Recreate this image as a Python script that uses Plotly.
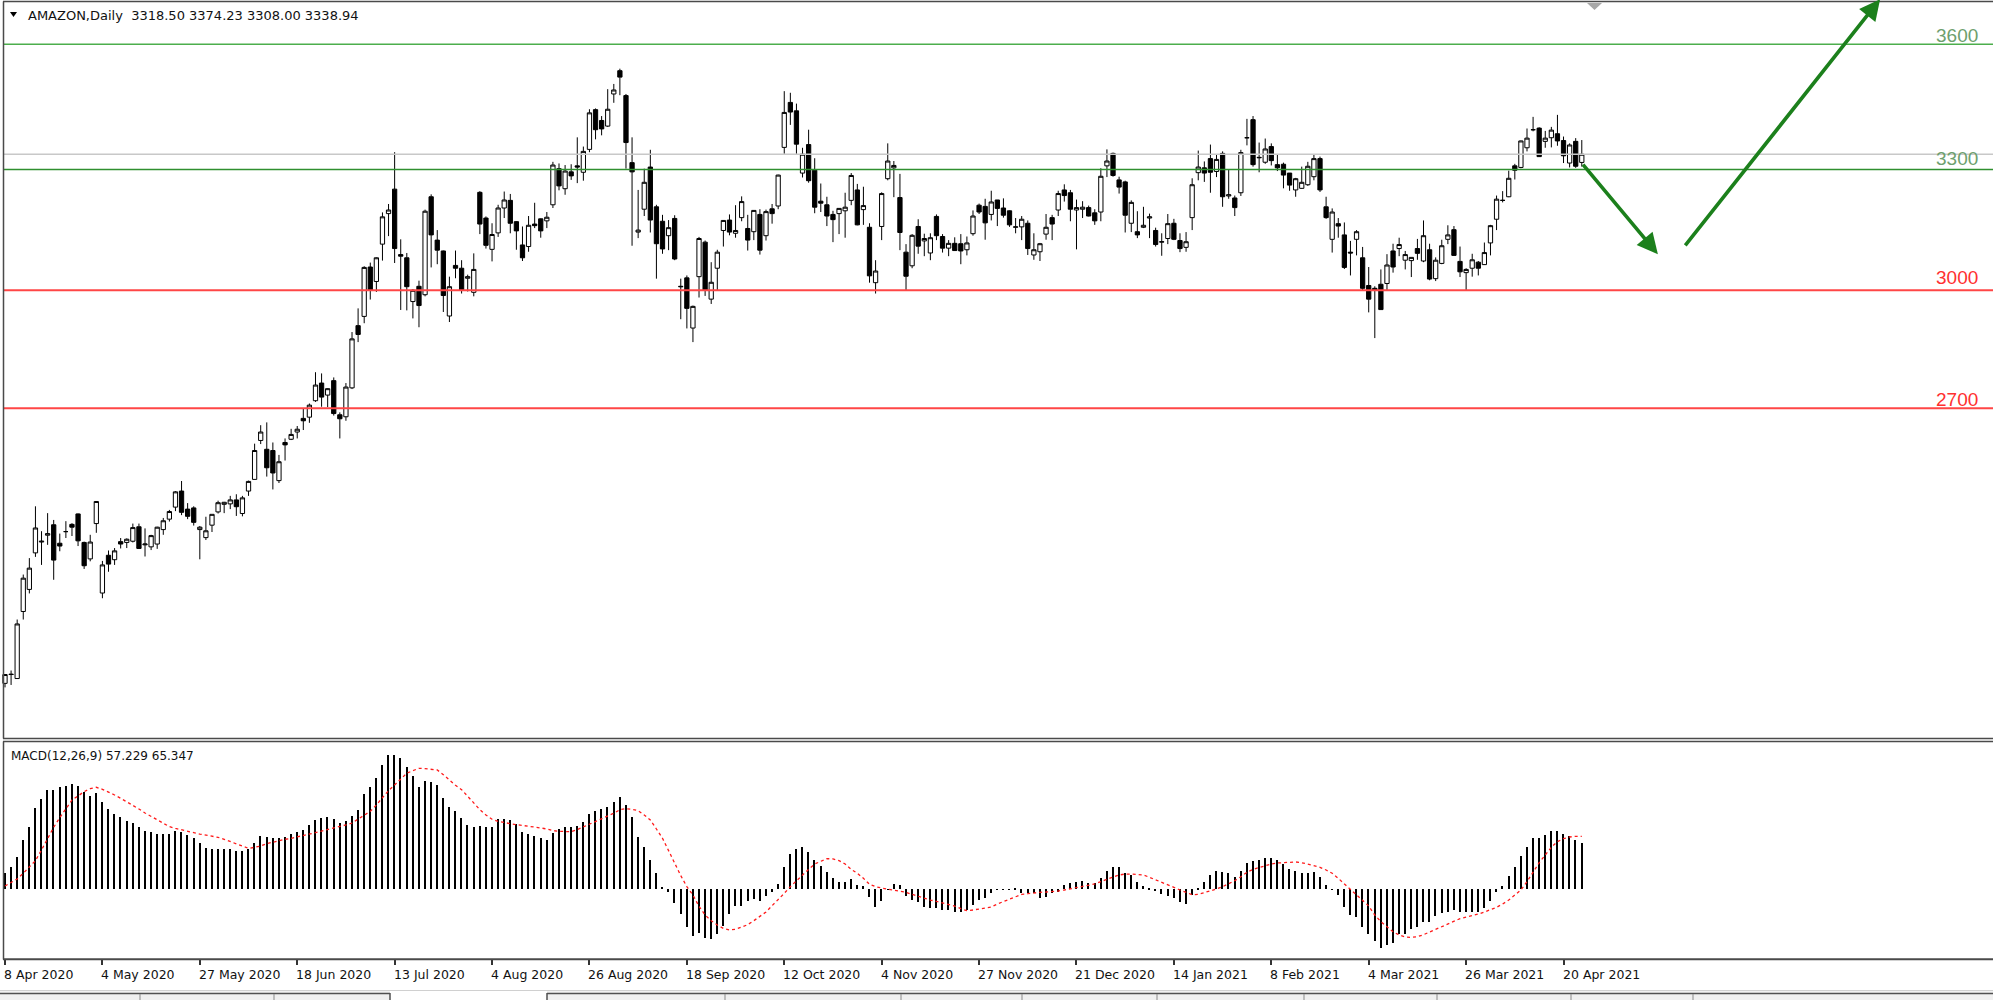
import plotly.graph_objects as go

# ---------------- DATA ----------------
TRADING_DAYS = {
    "2020-04": [8, 9, 13, 14, 15, 16, 17, 20, 21, 22, 23, 24, 27, 28, 29, 30],
    "2020-05": [4, 5, 6, 7, 8, 11, 12, 13, 14, 15, 18, 19, 20, 21, 22, 26, 27, 28, 29],
    "2020-06": [1, 2, 3, 4, 5, 8, 9, 10, 11, 12, 15, 16, 17, 18, 19, 22, 23, 24, 25, 26, 29, 30],
    "2020-07": [1, 2, 6, 7, 8, 9, 10, 13, 14, 15, 16, 17, 20, 21, 22, 23, 24, 27, 28, 29, 30, 31],
    "2020-08": [3, 4, 5, 6, 7, 10, 11, 12, 13, 14, 17, 18, 19, 20, 21, 24, 25, 26, 27, 28, 31],
    "2020-09": [1, 2, 3, 4, 8, 9, 10, 11, 14, 15, 16, 17, 18, 21, 22, 23, 24, 25, 28, 29, 30],
    "2020-10": [1, 2, 5, 6, 7, 8, 9, 12, 13, 14, 15, 16, 19, 20, 21, 22, 23, 26, 27, 28, 29, 30],
    "2020-11": [3, 4, 5, 6, 9, 10, 11, 12, 13, 16, 17, 18, 19, 20, 23, 24, 25, 27, 30],
    "2020-12": [1, 2, 3, 4, 7, 8, 9, 10, 11, 14, 15, 16, 17, 18, 21, 22, 23, 24, 28, 29, 30, 31],
    "2021-01": [4, 5, 6, 7, 8, 11, 12, 13, 14, 15, 19, 20, 21, 22, 25, 26, 27, 28, 29],
    "2021-02": [1, 2, 3, 4, 5, 8, 9, 10, 11, 12, 16, 17, 18, 19, 22, 23, 24, 25, 26],
    "2021-03": [1, 3, 4, 5, 8, 9, 10, 11, 12, 15, 16, 17, 18, 19, 22, 23, 24, 25, 26, 29, 30, 31],
    "2021-04": [1, 5, 6, 7, 8, 9, 12, 13, 14, 15, 16, 19, 20, 21, 22, 23],
}
DATES = [f"{ym}-{d:02d}" for ym, days in TRADING_DAYS.items() for d in days]

OPEN = [
    2021, 2044, 2033, 2200, 2255, 2346, 2373, 2390, 2416, 2370, 2399, 2417, 2443, 2372, 2331, 2419,
    2246, 2340, 2329, 2374, 2372, 2375, 2411, 2366, 2361, 2368, 2404, 2430, 2460, 2500, 2455, 2458, 2404, 2384, 2415,
    2448, 2467, 2468, 2478, 2444, 2500, 2529, 2626, 2604, 2601, 2526, 2621, 2629, 2647, 2681, 2684, 2725, 2769, 2739, 2775, 2690, 2685,
    2757, 2912, 2935, 3058, 3022, 3115, 3191, 3252, 3089, 3081, 2972, 3010, 2989, 3233, 3125, 3098, 2936, 3062, 3055, 3030, 2995, 3244,
    3180, 3102, 3143, 3205, 3224, 3171, 3113, 3109, 3165, 3178, 3173, 3213, 3303, 3253, 3295, 3310, 3294, 3351, 3450, 3423, 3409,
    3489, 3547, 3485, 3318, 3145, 3202, 3307, 3208, 3172, 3136, 3179, 3010, 3031, 2906, 3034, 3120, 2978, 3055, 3149, 3175, 3142,
    3181, 3154, 3146, 3189, 3136, 3203, 3210, 3356, 3468, 3447, 3292, 3363, 3299, 3222, 3213, 3189, 3191, 3198, 3224, 3250, 3201, 3157,
    3019, 3159, 3278, 3305, 3231, 3095, 3061, 3159, 3123, 3093, 3184, 3134, 3105, 3117, 3116, 3101, 3141, 3212, 3209,
    3189, 3225, 3205, 3198, 3157, 3158, 3167, 3088, 3096, 3140, 3181, 3200, 3250, 3243, 3200, 3202, 3206, 3193, 3195, 3310, 3341, 3275,
    3270, 3167, 3146, 3157, 3180, 3149, 3120, 3129, 3167, 3124, 3107, 3181, 3293, 3305, 3328, 3296, 3341, 3235, 3230,
    3243, 3380, 3425, 3330, 3319, 3358, 3313, 3314, 3292, 3250, 3254, 3263, 3283, 3328, 3208, 3127, 3166, 3138, 3095,
    3127, 3081, 3012, 3005, 3015, 3017, 3098, 3104, 3075, 3074, 3104, 3073, 3101, 3029, 3067, 3127, 3151, 3072, 3044, 3055, 3070, 3064,
    3118, 3177, 3224, 3233, 3310, 3306, 3355, 3400, 3404, 3371, 3380, 3390, 3373, 3317, 3371, 3318.50,
]
HIGH = [
    2044, 2053, 2180, 2292, 2333, 2462, 2400, 2445, 2428, 2394, 2425, 2420, 2444, 2374, 2391, 2475,
    2326, 2352, 2358, 2383, 2382, 2419, 2419, 2407, 2391, 2411, 2433, 2453, 2500, 2525, 2470, 2462, 2413, 2436, 2442,
    2476, 2473, 2488, 2492, 2488, 2526, 2618, 2664, 2671, 2621, 2590, 2631, 2655, 2662, 2705, 2718, 2796, 2793, 2756, 2783, 2696, 2769,
    2896, 2955, 3060, 3069, 3082, 3194, 3215, 3344, 3127, 3093, 3003, 3024, 3201, 3239, 3150, 3099, 3034, 3099, 3075, 3039, 3092, 3247,
    3184, 3167, 3213, 3246, 3240, 3172, 3159, 3185, 3218, 3179, 3195, 3320, 3316, 3312, 3314, 3381, 3358, 3451, 3453, 3434, 3501,
    3514, 3552, 3489, 3381, 3250, 3303, 3350, 3213, 3188, 3175, 3187, 3029, 3037, 2962, 3133, 3124, 3070, 3101, 3175, 3189, 3212,
    3234, 3188, 3198, 3202, 3201, 3215, 3288, 3496, 3492, 3465, 3355, 3400, 3329, 3266, 3233, 3198, 3205, 3243, 3292, 3265, 3258, 3167,
    3075, 3244, 3366, 3322, 3290, 3115, 3140, 3177, 3141, 3142, 3189, 3140, 3125, 3132, 3140, 3134, 3199, 3216, 3228,
    3248, 3225, 3229, 3199, 3180, 3185, 3174, 3142, 3118, 3190, 3188, 3248, 3264, 3250, 3226, 3222, 3211, 3202, 3304, 3351, 3343, 3283,
    3273, 3224, 3197, 3208, 3191, 3156, 3142, 3190, 3178, 3142, 3145, 3279, 3348, 3321, 3363, 3338, 3346, 3301, 3236,
    3350, 3427, 3434, 3368, 3378, 3366, 3338, 3318, 3292, 3280, 3308, 3320, 3339, 3333, 3233, 3204, 3180, 3169, 3123,
    3150, 3108, 3058, 3010, 3052, 3090, 3116, 3131, 3098, 3082, 3128, 3174, 3116, 3082, 3126, 3162, 3160, 3109, 3055, 3091, 3073, 3119,
    3163, 3236, 3247, 3298, 3315, 3373, 3403, 3432, 3406, 3397, 3407, 3437, 3383, 3366, 3379, 3374.23,
]
LOW = [
    2011, 2017, 2033, 2180, 2245, 2336, 2316, 2366, 2279, 2350, 2383, 2388, 2363, 2306, 2325, 2396,
    2233, 2299, 2316, 2357, 2358, 2372, 2356, 2337, 2353, 2356, 2391, 2424, 2450, 2440, 2430, 2414, 2330, 2378, 2398,
    2444, 2445, 2455, 2438, 2437, 2488, 2529, 2617, 2536, 2504, 2520, 2576, 2627, 2631, 2652, 2670, 2722, 2710, 2709, 2688, 2631, 2675,
    2754, 2871, 2918, 2977, 2996, 3074, 3135, 3068, 2951, 2950, 2930, 2908, 2985, 3057, 3065, 2946, 2921, 3030, 2992, 2997, 2985, 3140,
    3104, 3072, 3133, 3180, 3142, 3101, 3073, 3096, 3155, 3131, 3155, 3205, 3249, 3238, 3275, 3267, 3273, 3344, 3376, 3386, 3407,
    3467, 3486, 3303, 3111, 3130, 3185, 3144, 3029, 3091, 3100, 3075, 2928, 2905, 2871, 2982, 2986, 2966, 2999, 3109, 3137, 3131,
    3172, 3099, 3125, 3089, 3124, 3166, 3202, 3340, 3412, 3340, 3281, 3268, 3192, 3195, 3160, 3120, 3140, 3131, 3212, 3162, 3163, 3019,
    2992, 3125, 3274, 3232, 3100, 3000, 3055, 3091, 3085, 3075, 3125, 3094, 3085, 3098, 3065, 3087, 3136, 3190, 3126,
    3174, 3160, 3181, 3158, 3142, 3125, 3088, 3076, 3073, 3126, 3125, 3185, 3221, 3172, 3102, 3180, 3184, 3163, 3172, 3282, 3283, 3241,
    3144, 3145, 3130, 3155, 3130, 3109, 3086, 3115, 3125, 3095, 3096, 3150, 3274, 3270, 3243, 3282, 3208, 3228, 3185,
    3235, 3361, 3308, 3294, 3315, 3311, 3297, 3254, 3248, 3233, 3253, 3260, 3274, 3245, 3178, 3094, 3131, 3053, 3037,
    3087, 2999, 2945, 2881, 2952, 3000, 3044, 3085, 3052, 3033, 3076, 3070, 3025, 3023, 3065, 3115, 3086, 3033, 2999, 3034, 3037, 3063,
    3087, 3150, 3219, 3232, 3276, 3304, 3346, 3396, 3332, 3355, 3356, 3360, 3317, 3306, 3305, 3308.00,
]
CLOSE = [
    2043, 2043, 2169, 2283, 2308, 2408, 2375, 2394, 2328, 2363, 2399, 2410, 2376, 2314, 2373, 2474,
    2316, 2318, 2351, 2368, 2380, 2409, 2357, 2368, 2389, 2410, 2426, 2449, 2498, 2447, 2437, 2422, 2410, 2401, 2442,
    2471, 2472, 2478, 2461, 2483, 2524, 2601, 2647, 2558, 2545, 2573, 2615, 2641, 2654, 2675, 2714, 2764, 2734, 2755, 2693, 2680, 2759,
    2879, 2890, 3057, 3000, 3081, 3183, 3200, 3104, 3085, 3009, 3000, 2962, 3197, 3138, 3100, 2987, 3009, 3055, 3000, 3034, 3052, 3165,
    3112, 3139, 3205, 3225, 3167, 3148, 3081, 3162, 3161, 3148, 3182, 3312, 3260, 3297, 3285, 3307, 3346, 3442, 3400, 3402, 3451,
    3499, 3531, 3368, 3295, 3150, 3269, 3175, 3116, 3103, 3156, 3078, 3009, 2955, 2960, 3129, 3000, 3020, 3095, 3174, 3145, 3149,
    3221, 3125, 3199, 3100, 3196, 3191, 3287, 3443, 3444, 3364, 3339, 3273, 3207, 3217, 3185, 3176, 3204, 3207, 3286, 3163, 3211, 3036,
    3048, 3241, 3322, 3311, 3144, 3035, 3137, 3110, 3129, 3131, 3136, 3105, 3117, 3099, 3098, 3118, 3185, 3195, 3168,
    3220, 3204, 3187, 3163, 3158, 3177, 3104, 3101, 3116, 3157, 3165, 3241, 3236, 3202, 3206, 3207, 3185, 3173, 3284, 3322, 3286, 3257,
    3187, 3219, 3138, 3162, 3183, 3114, 3121, 3166, 3127, 3104, 3121, 3263, 3307, 3292, 3294, 3326, 3233, 3238, 3206,
    3343, 3380, 3313, 3331, 3352, 3323, 3305, 3287, 3262, 3278, 3269, 3309, 3328, 3250, 3181, 3195, 3160, 3057, 3093,
    3146, 3005, 2978, 3000, 2952, 3063, 3058, 3114, 3089, 3082, 3092, 3136, 3028, 3075, 3111, 3138, 3087, 3046, 3052, 3076, 3055, 3094,
    3161, 3227, 3224, 3279, 3299, 3372, 3379, 3400, 3333, 3379, 3399, 3372, 3335, 3362, 3309, 3338.94,
]
MACD_MAIN = [
    20.6, 27.2, 40.3, 60.9, 77.4, 100.0, 111.6, 122.7, 122.7, 126.0,
    128.0, 130.1, 128.0, 119.8, 115.7, 119.4, 108.3, 98.8, 93.0, 88.9,
    84.8, 82.3, 77.4, 72.5, 70.4, 68.3, 68.3, 68.3, 72.0, 70.4,
    67.1, 63.0, 56.8, 51.1, 49.8, 49.8, 49.8, 49.8, 47.8, 47.8,
    49.8, 56.8, 66.3, 64.2, 63.0, 63.0, 64.2, 68.3, 70.4, 73.3,
    79.5, 85.6, 87.7, 88.9, 86.5, 81.5, 84.8, 90.6, 98.0, 117.3,
    126.8, 137.9, 153.2, 165.9, 165.9, 161.8, 151.5, 140.0, 126.8, 133.8,
    132.2, 128.9, 113.2, 102.1, 96.7, 88.5, 79.5, 77.4, 78.6, 77.4,
    77.4, 86.5, 86.5, 85.6, 80.7, 70.4, 67.9, 66.3, 63.0, 60.9,
    70.0, 74.1, 77.4, 77.4, 78.6, 83.2, 92.6, 96.7, 98.8, 102.1,
    108.3, 114.5, 104.2, 88.9, 65.0, 52.7, 36.2, 19.8, 3.3, -2.9,
    -16.5, -30.5, -46.1, -57.2, -54.3, -60.5, -61.3, -55.2, -45.3, -30.5,
    -20.2, -20.2, -14.0, -11.9, -14.0, -7.8, -3.7, 6.6, 28.0, 43.6,
    49.4, 51.9, 45.7, 36.2, 28.8, 21.0, 13.6, 9.5, 9.5, 12.4,
    5.4, 4.5, -9.9, -21.4, -14.0, 0.4, 6.6, 4.9, -7.8, -13.2,
    -16.1, -21.4, -23.5, -23.5, -25.5, -25.5, -27.6, -27.6, -25.5, -19.4,
    -13.2, -10.3, -4.9, -0.6, 0.3, -0.4, 1.2, -4.1, -4.9, -4.9,
    -10.3, -9.1, -4.9, -2.9, 5.4, 7.4, 9.5, 10.7, 7.4, 8.2,
    13.6, 23.1, 27.2, 27.2, 20.6, 17.7, 9.5, 4.1, 1.2, -2.1,
    -5.8, -7.8, -11.1, -15.2, -18.1, -7.0, 2.1, 9.5, 17.7, 22.6,
    21.8, 19.8, 15.6, 23.1, 32.1, 35.0, 36.2, 38.3, 39.1, 36.2,
    31.3, 24.7, 23.1, 19.8, 19.8, 21.4, 15.6, 5.4, -0.8, -7.0,
    -21.4, -31.7, -34.6, -46.1, -55.2, -64.2, -72.9, -68.8, -66.3, -55.2,
    -55.2, -49.4, -46.1, -40.8, -39.9, -32.9, -28.8, -27.6, -25.5, -27.6,
    -27.6, -27.6, -27.6, -23.5, -14.0, -2.9, 4.1, 16.9, 27.2, 41.6,
    51.9, 63.0, 63.0, 67.1, 72.0, 72.0, 67.9, 65.9, 60.9, 57.229,
]
MACD_SIGNAL = [
    4.1, 8.6, 12.8, 19.8, 28.0, 35.4, 48.6, 63.0, 76.6, 88.5,
    99.6, 110.3, 115.3, 120.6, 124.3, 126.0, 123.5, 120.2, 116.5, 112.4,
    108.3, 104.2, 99.2, 94.3, 89.8, 85.6, 81.5, 77.4, 75.3, 73.3,
    71.2, 70.0, 68.3, 67.1, 65.9, 64.2, 61.8, 58.9, 56.0, 52.7,
    50.6, 51.9, 53.5, 56.4, 58.5, 60.1, 61.8, 63.0, 64.6, 65.9,
    67.9, 70.0, 72.0, 73.7, 75.3, 77.4, 79.5, 81.9, 86.5, 91.4,
    96.3, 104.2, 112.8, 121.9, 128.9, 136.3, 143.3, 146.6, 149.4, 149.0,
    148.2, 147.4, 141.6, 135.0, 128.4, 123.1, 114.5, 106.2, 98.4, 91.8,
    86.5, 84.0, 82.3, 81.1, 79.9, 79.0, 78.2, 77.4, 75.8, 74.5,
    72.5, 71.6, 71.2, 71.2, 73.7, 77.0, 80.7, 84.0, 87.3, 90.6,
    93.9, 98.4, 99.6, 98.8, 97.2, 91.8, 85.6, 74.5, 63.0, 47.8,
    32.1, 16.9, 3.3, -7.0, -21.0, -31.7, -38.7, -44.1, -48.2, -50.2,
    -49.4, -46.9, -43.6, -38.7, -33.8, -28.0, -20.2, -12.8, -4.9, 3.3,
    10.7, 17.7, 24.7, 31.3, 35.0, 37.9, 37.5, 35.4, 31.3, 24.7,
    19.8, 13.6, 6.2, 3.3, 1.6, 0.4, -1.2, -2.5, -3.7, -6.2,
    -8.6, -11.1, -13.2, -14.8, -16.5, -18.1, -20.6, -23.9, -26.3, -25.5,
    -24.3, -23.5, -21.8, -18.1, -15.2, -12.4, -9.1, -6.2, -5.4, -4.1,
    -3.7, -3.3, -2.9, -2.1, -0.8, 0.8, 2.5, 3.7, 4.9, 6.6,
    9.5, 12.8, 15.2, 17.7, 18.9, 18.9, 18.5, 17.7, 14.8, 11.9,
    9.1, 5.8, 2.5, -0.8, -3.3, -6.6, -6.2, -4.1, -2.5, 0.4,
    3.3, 6.6, 10.7, 15.6, 21.0, 24.7, 27.2, 29.6, 31.3, 32.5,
    32.9, 33.8, 33.8, 32.9, 31.3, 29.6, 27.2, 23.9, 19.8, 13.6,
    6.6, 0.0, -7.0, -14.0, -20.6, -31.7, -39.9, -46.1, -52.3, -56.4,
    -58.9, -59.3, -58.5, -56.0, -52.7, -49.4, -45.3, -42.0, -38.7, -36.2,
    -34.2, -32.5, -30.5, -28.0, -25.5, -22.2, -18.1, -13.2, -7.0, -0.8,
    9.5, 21.8, 32.9, 42.4, 51.9, 58.9, 62.6, 64.6, 65.5, 65.347,
]

TICK_DATES = ["2020-04-08", "2020-05-04", "2020-05-27", "2020-06-18", "2020-07-13",
              "2020-08-04", "2020-08-26", "2020-09-18", "2020-10-12", "2020-11-04",
              "2020-11-27", "2020-12-21", "2021-01-14", "2021-02-08", "2021-03-04",
              "2021-03-26", "2021-04-20"]
TICK_LABELS = ["8 Apr 2020", "4 May 2020", "27 May 2020", "18 Jun 2020", "13 Jul 2020",
               "4 Aug 2020", "26 Aug 2020", "18 Sep 2020", "12 Oct 2020", "4 Nov 2020",
               "27 Nov 2020", "21 Dec 2020", "14 Jan 2021", "8 Feb 2021", "4 Mar 2021",
               "26 Mar 2021", "20 Apr 2021"]

# horizontal level lines (price) and their text objects
LEVEL_PRICES = [3613, 3301, 3000, 2706]
LEVEL_KINDS = ["green_light", "green", "red", "red"]
BID_PRICE = 3338.94
LEVEL_TEXTS = ["3600", "3300", "3000", "2700"]
LEVEL_TEXT_PRICES = [3634, 3328, 3033, 2729]

TITLE = "AMAZON,Daily  3318.50 3374.23 3308.00 3338.94"
MACD_TITLE = "MACD(12,26,9) 57.229 65.347"

# forecast arrows: (tail bar, tail price, head bar, head price)
ARROWS = [(259.0, 3317, 271.5, 3090), (275.8, 3108, 308.0, 3725)]

# ---------------- STYLE / GEOMETRY ----------------
W, H = 1993, 1000
BAR0_PX, BAR_STEP_PX = 5.0, 6.088
MAIN_TOP, MAIN_BOT = 2, 738
MACD_TOP, MACD_BOT = 742, 959
PRICE_RANGE = [1884.9, 3718.1]
MACD_RANGE = [-86.0, 181.9]
COLORS = {"green_light": "#4cae4c", "green": "#2f8f2f", "red": "#ff4646",
          "bid": "#c8c8c8", "arrow": "#1c801c", "border": "#4a4a4a"}
LABEL_COLORS = {"green_light": "#6e9f6e", "green": "#6e9f6e", "red": "#ff3030"}
FONT = "DejaVu Sans"


def px_x(p):
    return p / W


def px_y(p):
    return 1 - p / H


X = list(range(len(DATES)))
x_range = [-BAR0_PX / BAR_STEP_PX, (W - BAR0_PX) / BAR_STEP_PX]
tick_idx = [DATES.index(d) for d in TICK_DATES]

fig = go.Figure()
fig.add_trace(go.Candlestick(
    x=X, open=OPEN, high=HIGH, low=LOW, close=CLOSE,
    increasing=dict(line=dict(color="black", width=1), fillcolor="white"),
    decreasing=dict(line=dict(color="black", width=1), fillcolor="black"),
    whiskerwidth=0, xaxis="x", yaxis="y", showlegend=False, hoverinfo="skip",
))
fig.add_trace(go.Bar(
    x=X, y=MACD_MAIN, width=0.24, marker=dict(color="black", line=dict(width=0)),
    xaxis="x2", yaxis="y2", showlegend=False, hoverinfo="skip",
))
fig.add_trace(go.Scatter(
    x=X, y=MACD_SIGNAL, mode="lines",
    line=dict(color="#ff1a1a", width=1.3, dash="3px,3px"),
    xaxis="x2", yaxis="y2", showlegend=False, hoverinfo="skip",
))

shapes = []
# level lines
for price, kind in zip(LEVEL_PRICES, LEVEL_KINDS):
    shapes.append(dict(type="line", xref="paper", yref="y", x0=px_x(4), x1=1,
                       y0=price, y1=price,
                       line=dict(color=COLORS[kind], width=2 if kind == "red" else 1.5)))
shapes.append(dict(type="line", xref="paper", yref="y", x0=px_x(4), x1=1,
                   y0=BID_PRICE, y1=BID_PRICE, line=dict(color=COLORS["bid"], width=1.5)))

bc = COLORS["border"]
for (xa, ya, xb, yb, w) in [
    (3.5, MAIN_TOP - 0.5, 3.5, MAIN_BOT + 0.5, 1.5),
    (3.5, MACD_TOP - 0.5, 3.5, MACD_BOT + 0.5, 1.5),
    (3, MAIN_TOP - 0.5, W, MAIN_TOP - 0.5, 1.5),
    (3, MAIN_BOT + 0.5, W, MAIN_BOT + 0.5, 1.5),
    (3, MACD_TOP - 0.5, W, MACD_TOP - 0.5, 1.5),
    (3, MACD_BOT + 0.3, W, MACD_BOT + 0.3, 2),
]:
    shapes.append(dict(type="line", xref="paper", yref="paper",
                       x0=px_x(xa), x1=px_x(xb), y0=px_y(ya), y1=px_y(yb),
                       line=dict(color=bc, width=w)))

# shift marker triangle at the top
shapes.append(dict(type="path", xref="paper", yref="paper",
                   path=f"M {px_x(1587)},{px_y(3)} L {px_x(1602)},{px_y(3)} L {px_x(1594.5)},{px_y(10)} Z",
                   fillcolor="#a8a8a8", line=dict(width=0)))
# title triangle
shapes.append(dict(type="path", xref="paper", yref="paper",
                   path=f"M {px_x(10)},{px_y(12)} L {px_x(17)},{px_y(12)} L {px_x(13.5)},{px_y(17)} Z",
                   fillcolor="black", line=dict(width=0)))

# bottom tab strip
shapes.append(dict(type="rect", xref="paper", yref="paper", x0=0, x1=1,
                   y0=px_y(1000), y1=px_y(990.5), fillcolor="#f0f0f0", line=dict(width=0)))
shapes.append(dict(type="line", xref="paper", yref="paper", x0=0, x1=1,
                   y0=px_y(990.5), y1=px_y(990.5), line=dict(color="#d0d0d0", width=1)))
shapes.append(dict(type="rect", xref="paper", yref="paper", x0=px_x(390), x1=px_x(547),
                   y0=px_y(1000), y1=px_y(991), fillcolor="white", line=dict(width=0)))
for xa, xb in [(0, 390), (547, W)]:
    shapes.append(dict(type="line", xref="paper", yref="paper", x0=px_x(xa), x1=px_x(xb),
                       y0=px_y(993.5), y1=px_y(993.5), line=dict(color="#505050", width=1.5)))
for xv in [140, 274, 725, 901, 1022, 1157, 1304, 1437, 1571, 1693]:
    shapes.append(dict(type="line", xref="paper", yref="paper", x0=px_x(xv), x1=px_x(xv),
                       y0=px_y(994), y1=px_y(1000), line=dict(color="#8a8a8a", width=1)))
for xv in [390, 547]:
    shapes.append(dict(type="line", xref="paper", yref="paper", x0=px_x(xv), x1=px_x(xv),
                       y0=px_y(993), y1=px_y(1000), line=dict(color="#505050", width=1.5)))

annotations = []
annotations.append(dict(xref="paper", yref="paper", x=px_x(26), y=px_y(15.5),
                        xanchor="left", yanchor="middle", showarrow=False, text=TITLE,
                        font=dict(family=FONT, size=13, color="#111111")))
annotations.append(dict(xref="paper", yref="paper", x=px_x(9), y=px_y(756),
                        xanchor="left", yanchor="middle", showarrow=False, text=MACD_TITLE,
                        font=dict(family=FONT, size=12, color="#111111")))
for i, lab in zip(tick_idx, TICK_LABELS):
    annotations.append(dict(xref="x2", yref="paper", x=i, y=px_y(974),
                            xanchor="left", yanchor="middle", xshift=-3, showarrow=False,
                            text=lab, font=dict(family=FONT, size=12.5, color="#111111")))
for txt, price, kind in zip(LEVEL_TEXTS, LEVEL_TEXT_PRICES, LEVEL_KINDS):
    annotations.append(dict(xref="paper", yref="y", x=px_x(1980), y=price,
                            xanchor="right", yanchor="middle", showarrow=False, text=txt,
                            font=dict(family="Liberation Sans", size=19, color=LABEL_COLORS[kind])))
for (tx, ty, hx, hy) in ARROWS:
    annotations.append(dict(xref="x", yref="y", axref="x", ayref="y",
                            x=hx, y=hy, ax=tx, ay=ty, text="", showarrow=True,
                            arrowhead=2, arrowsize=1.15, arrowwidth=3.6,
                            arrowcolor=COLORS["arrow"], standoff=0, startstandoff=0))

fig.update_layout(
    width=W, height=H, margin=dict(l=0, r=0, t=0, b=0),
    paper_bgcolor="white", plot_bgcolor="white", showlegend=False,
    boxgap=0.3, boxgroupgap=0, bargap=0,
    xaxis=dict(domain=[0, 1], range=x_range, showgrid=False, zeroline=False,
               showticklabels=False, ticks="", rangeslider=dict(visible=False),
               anchor="y", fixedrange=True),
    yaxis=dict(domain=[px_y(MAIN_BOT), px_y(MAIN_TOP)], range=PRICE_RANGE, showgrid=False,
               zeroline=False, showticklabels=False, ticks="", anchor="x", fixedrange=True),
    xaxis2=dict(domain=[0, 1], range=x_range, showgrid=False, zeroline=False,
                showticklabels=False, ticks="outside", ticklen=5, tickwidth=1.5,
                tickcolor="#333333", tickvals=tick_idx, anchor="y2", fixedrange=True),
    yaxis2=dict(domain=[px_y(MACD_BOT), px_y(MACD_TOP)], range=MACD_RANGE, showgrid=False,
                zeroline=False, showticklabels=False, ticks="", anchor="x2", fixedrange=True),
    shapes=shapes, annotations=annotations,
)

fig.write_html("out.html", config={"displayModeBar": False},
               post_script="document.body.style.margin='0';document.body.style.overflow='hidden';")
